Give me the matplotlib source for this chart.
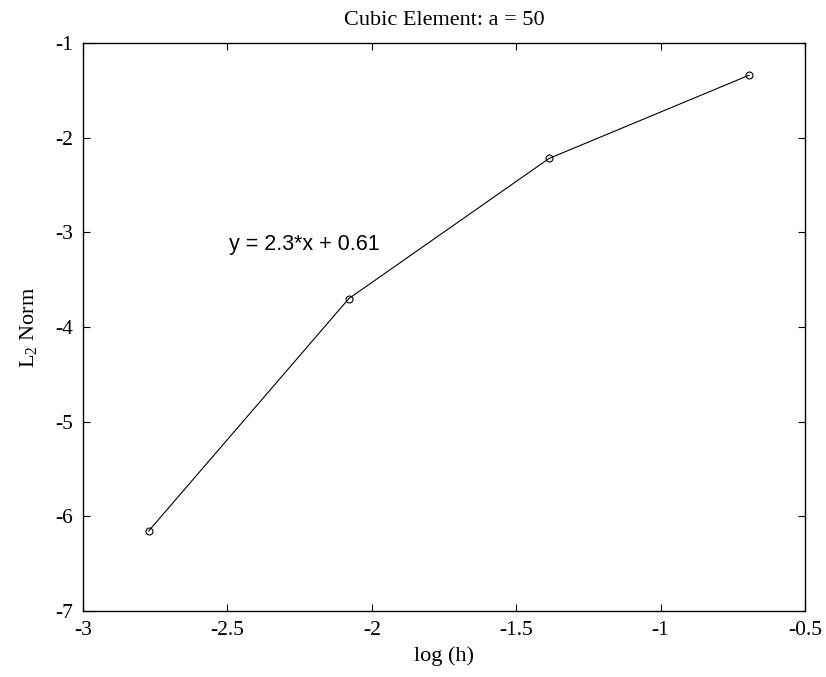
import matplotlib
matplotlib.use("Agg")
import matplotlib.pyplot as plt

# log(h) vs log of L2 error
log_h = [-2.7726, -2.0794, -1.3863, -0.6931]
l2_norm = [-6.155, -3.70, -2.22, -1.34]

x_ticks = [-3, -2.5, -2, -1.5, -1, -0.5]
y_ticks = [-7, -6, -5, -4, -3, -2, -1]

plt.rcParams["font.family"] = ["Liberation Serif", "DejaVu Serif"]
plt.rcParams["mathtext.fontset"] = "custom"
plt.rcParams["mathtext.rm"] = "Liberation Serif"
plt.rcParams["mathtext.it"] = "Liberation Serif:italic"

fig = plt.figure(figsize=(8.26, 6.77), dpi=100)
ax = fig.add_axes([0.1005, 0.0975, 0.874, 0.839])

ax.plot(log_h, l2_norm, color="black", linewidth=0.8, marker="o",
        markersize=5, markerfacecolor="none", markeredgewidth=0.8)

ax.text(-2.495, -3.13, "y = 2.3*x + 0.61", fontsize=15.5,
        family="Liberation Sans", ha="left", va="center")

ax.set_xlim(-3, -0.5)
ax.set_ylim(-7, -1)
ax.set_xticks(x_ticks)
ax.set_yticks(y_ticks)
ax.set_xticklabels(["-3", "-2.5", "-2", "-1.5", "-1", "-0.5"])
ax.set_yticklabels([str(v) for v in y_ticks])
ax.tick_params(direction="in", top=True, right=True, length=5,
               width=0.8, labelsize=15.5, pad=7)
for s in ax.spines.values():
    s.set_linewidth(1.0)

ax.set_title("Cubic Element: a = 50", fontsize=16, pad=13)
ax.set_xlabel("log (h)", fontsize=16, labelpad=5)
ax.set_ylabel("L$_2$ Norm", fontsize=16, labelpad=12)

fig.savefig("out.png", dpi=100)
